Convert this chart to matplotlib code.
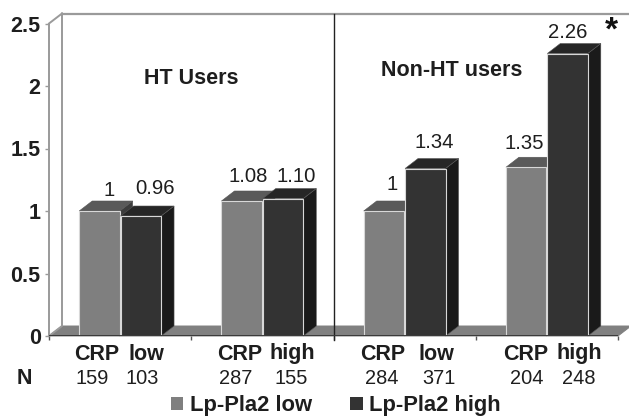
import matplotlib
matplotlib.use("Agg")
import matplotlib.pyplot as plt
from matplotlib.patches import Polygon, Patch

plt.rcParams['font.family'] = ['Liberation Sans', 'DejaVu Sans']

W, H = 629, 418
low_values = [1.00, 1.08, 1.00, 1.35]
high_values = [0.96, 1.10, 1.34, 2.26]
low_labels = ['1', '1.08', '1', '1.35']
high_labels = ['0.96', '1.10', '1.34', '2.26']
low_offsets = [(9, 21), (6, 25), (8, 27), (-2, 24)]
high_offsets = [(15, 27), (14, 22.5), (9, 25.5), (1, 20.5)]
group_words = [('CRP', 97), ('low', 146), ('CRP', 240), ('high', 292),
               ('CRP', 383), ('low', 436), ('CRP', 526), ('high', 579)]
n_words = [('159', 92), ('103', 142), ('287', 236), ('155', 291),
           ('284', 382), ('371', 439), ('204', 527), ('248', 579)]
yticks = [0, 0.5, 1, 1.5, 2, 2.5]
ytick_labels = ['0', '0.5', '1', '1.5', '2', '2.5']

C_LOW, C_LOW_TOP, C_LOW_SIDE = '#7f7f7f', '#5a5a5a', '#3c3c3c'
C_HIGH, C_HIGH_TOP, C_HIGH_SIDE = '#333333', '#262626', '#1a1a1a'
C_WALL = '#9a9a9a'
C_TEXT = '#1e1e1e'

fig = plt.figure(figsize=(W / 100, H / 100), dpi=100, facecolor='white')
x0, x1, y0, y1 = 49, 618, 336, 23.5
ax = fig.add_axes([x0 / W, 1 - y0 / H, (x1 - x0) / W, (y0 - y1) / H])
ax.set_xlim(0, 4)
ax.set_ylim(0, 2.5)
ax.patch.set_visible(False)

ux = (x1 - x0) / 4
uy = (y0 - y1) / 2.5
dx, dy = 13 / ux, 10 / uy
bw = 40.5 / ux


def px(x, y):
    return x / W, 1 - y / H


def poly(pts, fc, ec='#d8d8d8', lw=0.7, z=2):
    ax.add_patch(Polygon(pts, closed=True, fc=fc, ec=ec, lw=lw, zorder=z, clip_on=False))


# floor and walls
poly([(0, 0), (4, 0), (4 + dx, dy), (dx, dy)], '#808080', ec='#808080', z=1)
ax.plot([0, dx, dx], [0, dy, 2.5 + dy], color=C_WALL, lw=1.4, clip_on=False, zorder=1.5)
ax.plot([0, dx], [2.5, 2.5 + dy], color=C_WALL, lw=1.4, clip_on=False, zorder=1.5)
ax.plot([0, 0], [0, 2.5], color=C_WALL, lw=1.4, clip_on=False, zorder=1.5)
ax.plot([dx, 4 + dx], [2.5 + dy, 2.5 + dy], color=C_WALL, lw=1.6, clip_on=False, zorder=1.5)
ax.plot([2, 2], [-0.03, 2.5 + dy], color='#222222', lw=1.0, clip_on=False, zorder=1.6)


def draw_bar(x, v, front, top, side, z):
    poly([(x + bw, 0), (x + bw + dx, dy), (x + bw + dx, v + dy), (x + bw, v)], side, ec='#555555', lw=0.4, z=z)
    poly([(x, v), (x + bw, v), (x + bw + dx, v + dy), (x + dx, v + dy)], top, ec='#555555', lw=0.4, z=z)
    ax.bar(x, v, width=bw, align='edge', color=front, edgecolor='#d8d8d8', linewidth=0.8, zorder=z + 0.1)


for i, (lo, hi) in enumerate(zip(low_values, high_values)):
    c = i + 0.5
    draw_bar(c - bw - 0.003, lo, C_LOW, C_LOW_TOP, C_LOW_SIDE, 2 + i)
    draw_bar(c + 0.003, hi, C_HIGH, C_HIGH_TOP, C_HIGH_SIDE, 2.3 + i)
    for v, lab, off, bx in ((lo, low_labels[i], low_offsets[i], c - bw / 2),
                            (hi, high_labels[i], high_offsets[i], c + bw / 2)):
        ax.annotate(lab, (bx, v), xytext=(off[0] * 0.72, off[1] * 0.72), textcoords='offset points',
                    ha='center', va='center', fontsize=14.6, color=C_TEXT, zorder=10, annotation_clip=False)

# axes styling
for s in ax.spines.values():
    s.set_visible(False)
ax.axhline(0, color='#3a3a3a', lw=1.4, xmin=0, xmax=1, zorder=8)
ax.set_yticks(yticks, ytick_labels, fontsize=15.5, fontweight='bold', color=C_TEXT)
ax.set_xticks([0, 1, 2, 3, 4], [''] * 5)
ax.tick_params(axis='y', length=3, width=1, color=C_WALL, pad=3)
ax.tick_params(axis='x', length=3, width=1, color='#555555')

# group annotations
for txt, x in group_words:
    fig.text(*px(x, 354), txt, ha='center', va='center', fontsize=15.5, fontweight='bold', color=C_TEXT)
for txt, x in n_words:
    fig.text(*px(x, 378), txt, ha='center', va='center', fontsize=14.4, color=C_TEXT)
fig.text(*px(24, 378), 'N', ha='center', va='center', fontsize=15.5, fontweight='bold', color=C_TEXT)
fig.text(*px(191, 78), 'HT Users', ha='center', va='center', fontsize=15.5, fontweight='bold', color=C_TEXT)
fig.text(*px(452, 71), 'Non-HT users', ha='center', va='center', fontsize=15.5, fontweight='bold', color=C_TEXT)
fig.text(*px(611, 31), '*', ha='center', va='center', fontsize=24, fontweight='bold', color='#111111')

handles = [Patch(fc=C_LOW, ec='none', label='Lp-Pla2 low'), Patch(fc=C_HIGH, ec='none', label='Lp-Pla2 high')]
fig.legend(handles=handles, loc='center', bbox_to_anchor=px(336, 406), ncols=2, frameon=False,
           prop={'size': 15.8, 'weight': 'bold'}, labelcolor=C_TEXT, handlelength=0.55, handleheight=0.55,
           handletextpad=0.3, columnspacing=1.75, borderpad=0, borderaxespad=0)

fig.savefig('out.png', dpi=100)
